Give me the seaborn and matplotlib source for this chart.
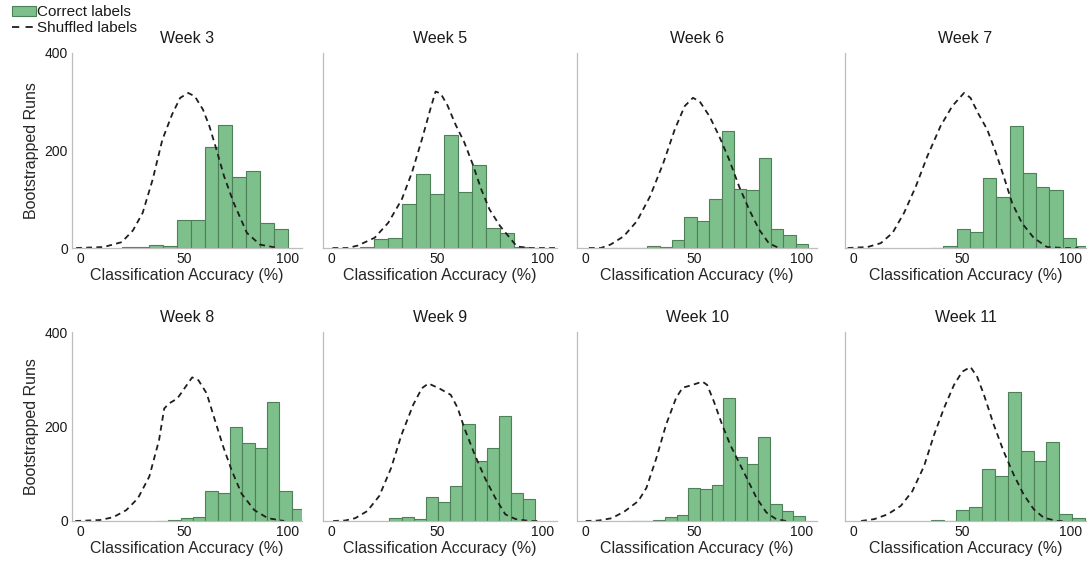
import numpy as np
import pandas as pd
import matplotlib
matplotlib.use("Agg")
import matplotlib.pyplot as plt
import seaborn as sns
from matplotlib.patches import Patch
from matplotlib.lines import Line2D
from matplotlib.ticker import MultipleLocator

# ---- data -------------------------------------------------------------
weeks = ["Week 3", "Week 5", "Week 6", "Week 7",
         "Week 8", "Week 9", "Week 10", "Week 11"]

# histogram binning for each week (left edge of first bin, bin width)
bin_start = [20.0, 13.33, 11.43, 35.2, 36.5, 27.5, 20.5, 35.5]
bin_width = [6.667, 6.667, 5.714, 6.1, 5.95, 5.77, 5.4, 5.92]

# bootstrapped run counts per bin (correct labels)
counts_w3 = [2, 2, 7, 5, 57, 58, 207, 252, 145, 158, 52, 40]
counts_w5 = [3, 19, 21, 90, 152, 110, 231, 115, 171, 41, 30, 3, 1]
counts_w6 = [1, 0, 0, 5, 3, 17, 64, 56, 101, 241, 122, 120, 184, 38, 27, 8]
counts_w7 = [1, 5, 40, 32, 144, 104, 250, 154, 125, 118, 20, 5]
counts_w8 = [1, 2, 6, 9, 63, 60, 199, 166, 154, 251, 63, 25]
counts_w9 = [6, 8, 4, 51, 41, 74, 205, 126, 154, 222, 59, 46]
counts_w10 = [1, 0, 2, 8, 13, 69, 67, 76, 260, 135, 121, 178, 36, 21, 10]
counts_w11 = [2, 0, 23, 29, 110, 96, 274, 149, 126, 168, 15, 7]
counts = [counts_w3, counts_w5, counts_w6, counts_w7,
          counts_w8, counts_w9, counts_w10, counts_w11]

# null distribution (shuffled labels): accuracy vs. runs
shuf_x_w3 = [-2, 11.3, 20, 25.4, 30.1, 34.9, 39.6, 44.3, 48.2, 52.1, 55.3,
             59.2, 62.3, 65.5, 69.4, 74.1, 80.4, 86.7, 95.3]
shuf_y_w3 = [0, 2, 12, 36, 72, 140, 222, 274, 308, 318, 311,
             284, 250, 205, 147, 92, 31, 7, 0]
shuf_x_w5 = [0.5, 7.7, 12.5, 20.5, 27, 33.4, 38.2, 43, 47, 49.4, 51.8, 55,
             59, 63, 67, 71, 75, 80, 84, 88, 94.4, 108]
shuf_y_w5 = [0, 0, 5, 21, 52, 100, 155, 224, 286, 321, 317, 293,
             252, 217, 172, 121, 79, 45, 24, 3, 0, 0]
shuf_x_w6 = [1.5, 7, 11.5, 17.6, 23.7, 29.8, 35.9, 41.2, 45.8, 49.6, 52.7,
             57.3, 61.8, 66.4, 71, 75.6, 80.2, 84.7, 89.3]
shuf_y_w6 = [0, 0, 7, 24, 55, 106, 174, 243, 291, 308, 301,
             270, 229, 181, 126, 79, 38, 10, 0]
shuf_x_w7 = [-2.8, 6.4, 12.5, 17.9, 23.2, 28.6, 33.9, 40, 45.4, 50.8, 53.8,
             57.6, 61.5, 65.3, 69.1, 73, 77.5, 82.9, 89, 96.6, 103.5]
shuf_y_w7 = [0, 2, 10, 31, 72, 126, 188, 250, 291, 318, 308,
             274, 243, 198, 147, 92, 51, 21, 2, 0, 0]
shuf_x_w8 = [-2.4, 9.5, 15.9, 22.2, 27.8, 33.3, 38, 40.5, 42.9, 46.8, 50.8,
             54, 57, 61, 65, 69, 73, 77.8, 84, 90.5, 98.4]
shuf_y_w8 = [0, 2, 8, 23, 48, 94, 171, 238, 249, 259, 284,
             304, 298, 270, 213, 157, 108, 58, 23, 6, 0]
shuf_x_w9 = [0.8, 6.5, 11.3, 17, 22.7, 28.3, 33.2, 38.8, 42.9, 46, 51, 56.6,
             59.9, 63.1, 68, 72.8, 77.7, 82.5, 87.4, 93.9, 97.9]
shuf_y_w9 = [0, 1, 6, 21, 53, 112, 182, 246, 281, 291, 281, 267,
             239, 196, 140, 91, 49, 14, 4, 0, 0]
shuf_x_w10 = [0, 6, 12.2, 18.2, 24.3, 28.1, 32.7, 37.2, 41.8, 44.8, 49.4,
              54, 56.2, 59.3, 63.1, 66.9, 70.7, 74.5, 79, 83.6, 88.1, 92.7]
shuf_y_w10 = [0, 1, 6, 21, 42, 70, 133, 204, 260, 282, 288,
              295, 288, 253, 204, 161, 126, 91, 49, 18, 4, 0]
shuf_x_w11 = [3.4, 9.5, 15.6, 21.7, 27, 32.4, 37, 41.6, 46.2, 50, 53.8, 56.9,
              60, 64.5, 69.1, 73.7, 78.3, 82.9, 87.5, 93.6, 96.6]
shuf_y_w11 = [0, 4, 14, 32, 63, 116, 182, 239, 288, 316, 326, 305,
              267, 204, 147, 98, 56, 25, 7, 0, 0]
shuf_x = [shuf_x_w3, shuf_x_w5, shuf_x_w6, shuf_x_w7,
          shuf_x_w8, shuf_x_w9, shuf_x_w10, shuf_x_w11]
shuf_y = [shuf_y_w3, shuf_y_w5, shuf_y_w6, shuf_y_w7,
          shuf_y_w8, shuf_y_w9, shuf_y_w10, shuf_y_w11]

x_ticks = [0, 50, 100]
y_ticks = [0, 200, 400]

# ---- style ------------------------------------------------------------
sns.set_theme(style="white")
plt.rcParams["font.family"] = ["Liberation Sans", "DejaVu Sans"]
plt.rcParams["text.color"] = "#1a1a1a"

BAR_FACE = "#7dc08b"
BAR_EDGE = "#4d7f59"
AXIS_GREY = "#bdbdbd"
LINE_COL = "#1e1e1e"
DASH = (0, (3.2, 2.4))

W, H = 1089, 565
fig = plt.figure(figsize=(W / 100, H / 100), dpi=100)

# panel boxes in pixels: (left, right) per column, (top, bottom) per row
col_px = [(72, 302), (323, 557), (577, 817), (845, 1086)]
row_px = [(53, 248), (332, 521)]

for i, week in enumerate(weeks):
    r, c = divmod(i, 4)
    (l, rt), (t, b) = col_px[c], row_px[r]
    ax = fig.add_axes([l / W, 1 - b / H, (rt - l) / W, (b - t) / H])

    n = len(counts[i])
    edges = bin_start[i] + bin_width[i] * np.arange(n + 1)
    hist_df = pd.DataFrame({"accuracy": edges[:-1] + bin_width[i] / 2,
                            "runs": counts[i]})
    sns.histplot(data=hist_df, x="accuracy", weights="runs",
                 bins=edges.tolist(), ax=ax, color=BAR_FACE,
                 edgecolor=BAR_EDGE, linewidth=0.8, alpha=1.0)

    line_df = pd.DataFrame({"accuracy": shuf_x[i], "runs": shuf_y[i]})
    sns.lineplot(data=line_df, x="accuracy", y="runs", ax=ax,
                 color=LINE_COL, linewidth=1.3, estimator=None, sort=False,
                 linestyle=DASH)

    ax.set_xlim(-4, 107)
    ax.set_ylim(0, 400)
    ax.set_xticks(x_ticks)
    ax.set_yticks(y_ticks)
    ax.xaxis.set_minor_locator(MultipleLocator(10))
    ax.yaxis.set_minor_locator(MultipleLocator(50))
    ax.tick_params(axis="both", which="both", direction="in",
                   color=AXIS_GREY, width=0.8, labelsize=10,
                   labelcolor="#1a1a1a")
    ax.tick_params(axis="both", which="major", length=3, pad=3)
    ax.tick_params(axis="both", which="minor", length=2.5)
    for side in ("top", "right"):
        ax.spines[side].set_visible(False)
    for side in ("left", "bottom"):
        ax.spines[side].set_color(AXIS_GREY)
        ax.spines[side].set_linewidth(0.9)

    ax.set_title(week, fontsize=11.5, pad=7)
    ax.set_xlabel("Classification Accuracy (%)", fontsize=11.5, labelpad=1)
    if c == 0:
        ax.set_ylabel("Bootstrapped Runs", fontsize=11.5, labelpad=4)
    else:
        ax.set_ylabel("")
        ax.tick_params(axis="y", labelleft=False)

handles = [
    Patch(facecolor=BAR_FACE, edgecolor=BAR_EDGE, linewidth=0.8),
    Line2D([0], [0], color=LINE_COL, linewidth=1.3, linestyle=(0, (4, 3.5))),
]
fig.legend(handles, ["Correct labels", "Shuffled labels"],
           loc="upper left", bbox_to_anchor=(12 / W, 1 - 5 / H),
           frameon=False, fontsize=11, handlelength=1.55,
           handleheight=0.65, handletextpad=0.1, labelspacing=0.15,
           borderpad=0, borderaxespad=0)

fig.savefig("out.png", dpi=100)
